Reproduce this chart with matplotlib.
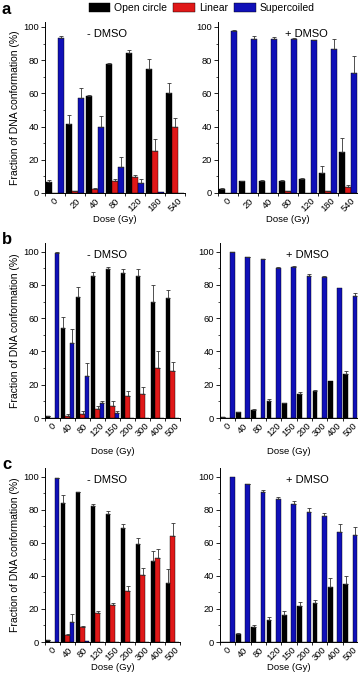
import matplotlib
matplotlib.use("Agg")
import matplotlib.pyplot as plt
import numpy as np
from matplotlib.patches import Patch

plt.rcParams['font.family'] = ['Liberation Sans', 'DejaVu Sans']

# ---------------- data ----------------
doses_a = ["0", "20", "40", "80", "120", "180", "540"]
doses_bc = ["0", "40", "80", "120", "150", "200", "300", "400", "500"]
series_names = ["Open circle", "Linear", "Supercoiled"]

# panel a, - DMSO
a_minus_open = [6.5, 41.5, 58.5, 77.5, 84.5, 74.5, 60.5]
a_minus_open_err = [1.5, 5.5, 0.5, 1.0, 1.5, 6.0, 5.5]
a_minus_lin = [0.0, 1.0, 2.5, 7.0, 9.5, 25.5, 39.5]
a_minus_lin_err = [0.0, 0.3, 0.5, 1.5, 1.5, 7.0, 5.5]
a_minus_sc = [93.5, 57.5, 39.5, 15.5, 6.0, 0.5, 0.0]
a_minus_sc_err = [1.0, 5.5, 7.0, 6.0, 2.5, 0.0, 0.0]
# panel a, + DMSO
a_plus_open = [2.5, 7.0, 7.5, 7.0, 8.5, 12.0, 24.5]
a_plus_open_err = [0.8, 0.5, 0.5, 0.6, 0.5, 4.5, 8.5]
a_plus_lin = [0.0, 0.0, 0.0, 1.0, 0.0, 1.0, 3.5]
a_plus_lin_err = [0.0, 0.0, 0.0, 0.3, 0.0, 0.3, 1.5]
a_plus_sc = [97.5, 93.0, 92.5, 92.5, 92.0, 87.0, 72.5]
a_plus_sc_err = [0.5, 1.5, 1.2, 1.0, 0.3, 5.5, 10.0]

# panel b, - DMSO
b_minus_open = [1.0, 54.0, 72.5, 85.5, 89.5, 87.0, 85.5, 70.0, 72.0]
b_minus_open_err = [0.3, 7.0, 6.0, 2.5, 1.5, 2.5, 4.0, 10.0, 5.0]
b_minus_lin = [0.0, 1.5, 2.5, 5.5, 7.5, 13.0, 14.5, 30.0, 28.0]
b_minus_lin_err = [0.0, 1.0, 1.5, 2.0, 3.0, 3.0, 4.0, 10.0, 5.5]
b_minus_sc = [99.0, 45.0, 25.5, 9.0, 3.0, 0.0, 0.0, 0.0, 0.0]
b_minus_sc_err = [0.5, 8.5, 7.5, 1.5, 1.5, 0.0, 0.0, 0.0, 0.0]
# panel b, + DMSO
b_plus_open = [0.5, 3.5, 5.0, 10.0, 9.0, 14.5, 16.0, 22.0, 26.5]
b_plus_open_err = [0.2, 0.3, 0.3, 1.5, 0.3, 1.0, 1.0, 0.0, 1.5]
b_plus_lin = [0.0, 0.0, 0.0, 0.0, 0.0, 0.0, 0.0, 0.0, 0.0]
b_plus_lin_err = [0.0, 0.0, 0.0, 0.0, 0.0, 0.0, 0.0, 0.0, 0.0]
b_plus_sc = [99.5, 96.5, 95.5, 90.0, 91.0, 85.5, 84.5, 78.0, 73.5]
b_plus_sc_err = [0.5, 0.3, 0.3, 1.0, 0.5, 1.0, 1.0, 0.0, 1.5]

# panel c, - DMSO
c_minus_open = [1.0, 84.0, 90.5, 82.5, 77.5, 69.0, 59.5, 49.0, 36.0]
c_minus_open_err = [0.3, 5.0, 0.5, 1.0, 1.5, 2.5, 3.5, 6.0, 8.0]
c_minus_lin = [0.0, 4.5, 9.0, 17.5, 22.5, 31.0, 40.5, 51.0, 64.0]
c_minus_lin_err = [0.0, 0.5, 0.5, 1.0, 1.0, 3.0, 4.0, 5.5, 8.0]
c_minus_sc = [99.0, 12.0, 0.8, 0.0, 0.0, 0.0, 0.0, 0.0, 0.0]
c_minus_sc_err = [0.5, 5.0, 0.0, 0.0, 0.0, 0.0, 0.0, 0.0, 0.0]
# panel c, + DMSO
c_plus_open = [0.0, 5.0, 9.0, 13.5, 16.5, 21.5, 23.5, 33.5, 35.0]
c_plus_open_err = [0.0, 0.3, 1.5, 1.5, 2.0, 2.5, 2.0, 5.0, 5.0]
c_plus_lin = [0.0, 0.0, 0.0, 0.0, 0.0, 0.0, 0.0, 0.0, 0.0]
c_plus_lin_err = [0.0, 0.0, 0.0, 0.0, 0.0, 0.0, 0.0, 0.0, 0.0]
c_plus_sc = [100.0, 95.5, 91.0, 86.5, 83.5, 78.5, 76.5, 66.5, 65.0]
c_plus_sc_err = [0.0, 0.3, 1.0, 1.0, 2.0, 2.5, 1.5, 5.0, 4.5]

colors = ["#000000", "#e01818", "#1010b8"]

W, H = 358, 680
fig = plt.figure(figsize=(W / 100, H / 100), dpi=100)


def px_axes(x0, x1, y_top, y_bot):
    return fig.add_axes([x0 / W, 1 - y_bot / H, (x1 - x0) / W, (y_bot - y_top) / H])


def draw(ax, labels, series, errs, ymax, condition, tx, xlabelpad):
    n = len(labels)
    centers = np.arange(n) + 0.5
    w = 0.3
    for i, (vals, err) in enumerate(zip(series, errs)):
        x = centers + (i - 1) * w
        ax.bar(x, vals, width=w, color=colors[i], edgecolor="black",
               linewidth=0.3, zorder=2)
        vals_a = np.asarray(vals)
        err_a = np.asarray(err)
        mask = err_a > 0
        ax.errorbar(x[mask], vals_a[mask],
                    yerr=[np.zeros(mask.sum()), err_a[mask]],
                    fmt="none", ecolor="#333333", elinewidth=0.6,
                    capsize=1.3, capthick=0.6, zorder=3)
    ax.set_xlim(0, n)
    ax.set_ylim(0, ymax)
    ax.spines["top"].set_visible(False)
    ax.spines["right"].set_visible(False)
    ax.spines["left"].set_linewidth(0.7)
    ax.spines["bottom"].set_linewidth(0.7)
    ax.set_xticks(np.arange(n + 1))
    ax.set_xticklabels([])
    ax.set_xticks(centers, labels, minor=True)
    ax.tick_params(axis="x", which="major", direction="out", length=2.5, width=0.6)
    ax.tick_params(axis="x", which="minor", length=0, pad=2.5, labelsize=6.7,
                   labelrotation=45)
    ax.set_yticks(np.arange(0, 101, 20))
    ax.set_yticks(np.arange(10, 100, 20), minor=True)
    ax.tick_params(axis="y", which="major", direction="out", length=3, width=0.6,
                   labelsize=6.7, pad=1.5)
    ax.tick_params(axis="y", which="minor", direction="out", length=1.8, width=0.5)
    ax.set_xlabel("Dose (Gy)", fontsize=6.8, labelpad=xlabelpad)
    ax.text(tx, 0.93, condition, transform=ax.transAxes, fontsize=8,
            ha="center", va="center")


# panel a
ax = px_axes(45, 185, 22, 193)
draw(ax, doses_a, [a_minus_open, a_minus_lin, a_minus_sc],
     [a_minus_open_err, a_minus_lin_err, a_minus_sc_err], 103, "- DMSO", 0.44, 1)
ax.set_ylabel("Fraction of DNA conformation (%)", fontsize=7.5, labelpad=2)
ax = px_axes(218, 358, 22, 193)
draw(ax, doses_a, [a_plus_open, a_plus_lin, a_plus_sc],
     [a_plus_open_err, a_plus_lin_err, a_plus_sc_err], 103, "+ DMSO", 0.63, 1)

# panel b
ax = px_axes(45, 180, 243, 418)
draw(ax, doses_bc, [b_minus_open, b_minus_lin, b_minus_sc],
     [b_minus_open_err, b_minus_lin_err, b_minus_sc_err], 105.2, "- DMSO", 0.46, 6)
ax.set_ylabel("Fraction of DNA conformation (%)", fontsize=7.5, labelpad=2)
ax = px_axes(220, 358, 243, 418)
draw(ax, doses_bc, [b_plus_open, b_plus_lin, b_plus_sc],
     [b_plus_open_err, b_plus_lin_err, b_plus_sc_err], 105.2, "+ DMSO", 0.63, 6)

# panel c
ax = px_axes(45, 180, 468, 642)
draw(ax, doses_bc, [c_minus_open, c_minus_lin, c_minus_sc],
     [c_minus_open_err, c_minus_lin_err, c_minus_sc_err], 105.3, "- DMSO", 0.46, 0)
ax.set_ylabel("Fraction of DNA conformation (%)", fontsize=7.5, labelpad=2)
ax = px_axes(220, 358, 468, 642)
draw(ax, doses_bc, [c_plus_open, c_plus_lin, c_plus_sc],
     [c_plus_open_err, c_plus_lin_err, c_plus_sc_err], 105.3, "+ DMSO", 0.63, 0)

# legend
handles = [Patch(facecolor=c, edgecolor="black", linewidth=0.3) for c in colors]
fig.legend(handles, series_names, loc="upper center", bbox_to_anchor=(0.563, 1.005),
           ncol=3, frameon=False, fontsize=7.5, handlelength=2.1, handleheight=0.9,
           handletextpad=0.35, columnspacing=0.6, borderaxespad=0.2)

# panel letters
for letter, ypx in [("a", 2), ("b", 232), ("c", 457)]:
    fig.text(2 / W, 1 - ypx / H, letter, fontsize=12, fontweight="bold",
             ha="left", va="top")

fig.savefig("out.png", dpi=100)
